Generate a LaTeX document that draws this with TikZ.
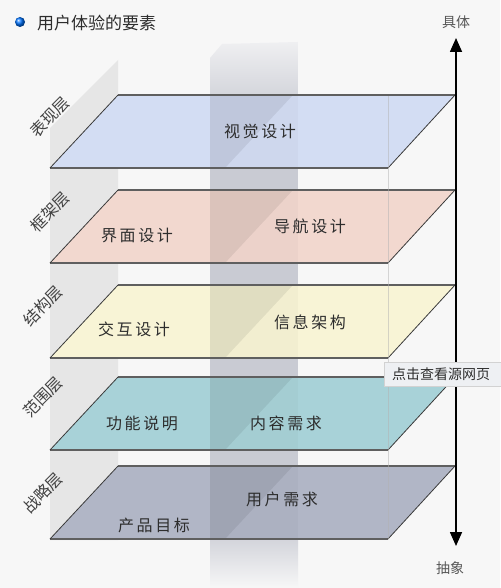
\documentclass[tikz,border=0pt]{standalone}
\usepackage{fontspec}
\newfontfamily\cjk[LetterSpace=16]{Noto Sans CJK SC}
\newfontfamily\cjkplain{Noto Sans CJK SC}
\usetikzlibrary{arrows.meta}
\definecolor{bgc}{HTML}{F7F7F7}
\definecolor{stripc}{HTML}{E6E6E6}
\definecolor{bandc}{HTML}{C9CBD3}
\definecolor{bandtop}{HTML}{EFEFF1}
\definecolor{lone}{HTML}{D3DDF3}
\definecolor{ltwo}{HTML}{F2D8CF}
\definecolor{lthree}{HTML}{F8F4D6}
\definecolor{lfour}{HTML}{A8D2D8}
\definecolor{lfive}{HTML}{B1B6C6}
\definecolor{edgec}{HTML}{5F5F5F}
\definecolor{sedgec}{HTML}{3A3A3A}
\definecolor{txtc}{HTML}{2D2D2D}
\definecolor{tipc}{HTML}{EEF0F3}
\tikzset{
  itemtext/.style={font=\cjk\fontsize{16}{16}\selectfont, text=txtc, inner sep=0pt},
  laytext/.style={font=\cjkplain\fontsize{16}{16}\selectfont, text=txtc!90!white, inner sep=0pt, rotate=45},
  toptext/.style={font=\cjkplain\fontsize{17}{17}\selectfont, text=txtc, inner sep=0pt, anchor=west},
  axistext/.style={font=\cjkplain\fontsize{14}{14}\selectfont, text=txtc!80!white, inner sep=0pt},
  edgeline/.style={draw=edgec, line width=1.3pt},
  sedgeline/.style={draw=sedgec, line width=0.8pt},
}
\begin{document}
\begin{tikzpicture}[x=1pt,y=-1pt]
\useasboundingbox (0,0) rectangle (500,588);
\fill[bgc] (0,0) rectangle (500,588);
% left wall strip
\fill[stripc] (50,128) -- (118,60) -- (118,540) -- (50,540) -- cycle;
% central band
\fill[bandc] (210,95) rectangle (298,540);
\shade[top color=bandtop, bottom color=bandc!70!bandtop] (210,58) -- (222,44) -- (298,42) -- (298,95) -- (210,95) -- cycle;
\shade[top color=bandc!80!white, bottom color=bgc] (210,540) rectangle (298,588);
% layers
\foreach \t/\c in {95/lone,190/ltwo,285/lthree,377/lfour,466/lfive}{
  \fill[\c] (50,\t+73) -- (118,\t) -- (455,\t) -- (388,\t+73) -- cycle;
  \fill[black,opacity=0.025] (210,\t) rectangle (298,\t+73);
  \fill[black,opacity=0.07] (210,\t) -- (293,\t) -- (225,\t+73) -- (210,\t+73) -- cycle;
  \draw[edgeline] (118,\t) -- (455,\t);
  \draw[edgeline] (50,\t+73) -- (388,\t+73);
  \draw[sedgeline] (50,\t+73) -- (118,\t);
  \draw[sedgeline] (388,\t+73) -- (455,\t);
}
\draw[gray!60, opacity=0.5, line width=0.6pt] (388,96) -- (388,539);
% title
\shade[ball color=blue!55!cyan] (20,22) circle (5);
\node[toptext] (title) at (37,23) {用户体验的要素};
% axis
\coordinate (atop) at (456,38);
\coordinate (abot) at (456,546);
\draw[line width=1.6pt, {Triangle[width=12pt,length=14pt]}-{Triangle[width=12pt,length=14pt]}] (abot) -- (atop);
\node[axistext] (concrete) at (456,22) {具体};
\node[axistext] (abstract) at (450,568) {抽象};
% layer names
\node[laytext] (n1) at (50,117) {表现层};
\node[laytext] (n2) at (50,212) {框架层};
\node[laytext] (n3) at (43,306) {结构层};
\node[laytext] (n4) at (43,397) {范围层};
\node[laytext] (n5) at (43,493) {战略层};
% items
\node[itemtext] (visual) at (260,131) {视觉设计};
\node[itemtext] (iface) at (137,235) {界面设计};
\node[itemtext] (nav) at (310,226) {导航设计};
\node[itemtext] (inter) at (134,329) {交互设计};
\node[itemtext] (info) at (310,322) {信息架构};
\node[itemtext] (func) at (142,423) {功能说明};
\node[itemtext] (content) at (286,423) {内容需求};
\node[itemtext] (goal) at (154,525) {产品目标};
\node[itemtext] (need) at (282,499) {用户需求};
% tooltip
\node[draw=gray!35, fill=tipc, minimum width=124pt, minimum height=24pt, anchor=north west, inner sep=0pt] (tipbox) at (384,362) {};
\node[font=\cjkplain\fontsize{14}{14}\selectfont, text=txtc, anchor=west, inner sep=0pt] (tiptext) at (392,374) {点击查看源网页};
\end{tikzpicture}
\end{document}
